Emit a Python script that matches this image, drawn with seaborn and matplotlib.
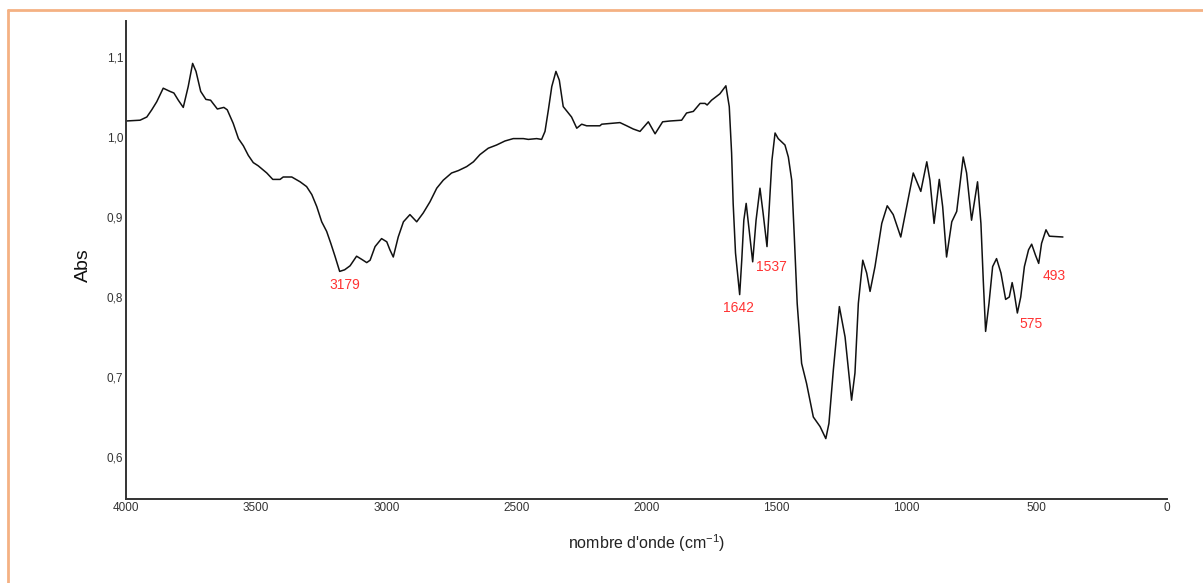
import matplotlib
matplotlib.use("Agg")
import matplotlib.pyplot as plt
from matplotlib.lines import Line2D
import numpy as np
import pandas as pd
import seaborn as sns

# FTIR absorbance spectrum (wavenumber in cm-1, absorbance)
wavenumber = [
    4000, 3946, 3920, 3901, 3882, 3857, 3831, 3816, 3799, 3780,
    3761, 3744, 3731, 3713, 3693, 3675, 3649, 3624, 3611, 3588,
    3568, 3549, 3530, 3511, 3492, 3459, 3436, 3408, 3396, 3363,
    3331, 3306, 3286, 3267, 3248, 3229, 3213, 3197, 3179, 3160,
    3139, 3114, 3094, 3075, 3062, 3043, 3018, 2998, 2986, 2973,
    2954, 2934, 2909, 2883, 2858, 2832, 2806, 2781, 2749, 2723,
    2691, 2665, 2640, 2608, 2576, 2544, 2512, 2473, 2454, 2422,
    2403, 2390, 2377, 2364, 2348, 2335, 2320, 2305, 2288, 2268,
    2249, 2230, 2179, 2172, 2102, 2076, 2051, 2025, 1993, 1967,
    1938, 1910, 1865, 1846, 1820, 1794, 1775, 1767, 1750, 1718,
    1695, 1682, 1673, 1667, 1658, 1642, 1634, 1626, 1617, 1607,
    1592, 1579, 1564, 1552, 1537, 1527, 1518, 1506, 1494, 1468,
    1455, 1442, 1432, 1421, 1404, 1385, 1359, 1333, 1311, 1299,
    1282, 1259, 1237, 1212, 1199, 1186, 1169, 1154, 1141, 1122,
    1096, 1075, 1052, 1023, 1000, 975, 946, 923, 911, 895,
    875, 862, 847, 827, 808, 783, 770, 751, 728, 715,
    706, 697, 684, 670, 655, 638, 620, 606, 595, 587,
    575, 562, 548, 532, 520, 505, 493, 482, 465, 452,
    400,
]
absorbance = [
    1.020, 1.021, 1.025, 1.034, 1.044, 1.061, 1.057, 1.055, 1.046, 1.037,
    1.063, 1.092, 1.082, 1.057, 1.047, 1.046, 1.035, 1.037, 1.034, 1.017,
    0.998, 0.989, 0.977, 0.968, 0.964, 0.955, 0.947, 0.947, 0.950, 0.950,
    0.944, 0.938, 0.928, 0.913, 0.894, 0.882, 0.867, 0.851, 0.832, 0.834,
    0.839, 0.851, 0.847, 0.843, 0.846, 0.863, 0.873, 0.869, 0.859, 0.850,
    0.875, 0.894, 0.903, 0.894, 0.905, 0.919, 0.936, 0.946, 0.955, 0.958,
    0.963, 0.969, 0.978, 0.986, 0.990, 0.995, 0.998, 0.998, 0.997, 0.998,
    0.997, 1.007, 1.034, 1.063, 1.082, 1.071, 1.038, 1.032, 1.025, 1.011,
    1.016, 1.014, 1.014, 1.016, 1.018, 1.014, 1.010, 1.007, 1.019, 1.004,
    1.019, 1.020, 1.021, 1.030, 1.032, 1.042, 1.042, 1.040, 1.046, 1.054,
    1.064, 1.038, 0.980, 0.917, 0.855, 0.803, 0.846, 0.896, 0.917, 0.888,
    0.844, 0.896, 0.936, 0.905, 0.863, 0.921, 0.971, 1.005, 0.998, 0.990,
    0.975, 0.946, 0.875, 0.792, 0.717, 0.692, 0.650, 0.638, 0.623, 0.642,
    0.709, 0.788, 0.750, 0.671, 0.705, 0.792, 0.846, 0.830, 0.807, 0.838,
    0.892, 0.914, 0.903, 0.875, 0.913, 0.955, 0.932, 0.969, 0.946, 0.892,
    0.947, 0.913, 0.850, 0.894, 0.907, 0.975, 0.955, 0.896, 0.944, 0.892,
    0.821, 0.757, 0.792, 0.838, 0.848, 0.830, 0.797, 0.800, 0.818, 0.805,
    0.780, 0.800, 0.838, 0.859, 0.866, 0.852, 0.842, 0.867, 0.884, 0.876,
    0.875,
]

# Annotated band positions and label offsets (points)
peak_labels = [3179, 1642, 1537, 575, 493]
label_dx = [4, -1, 3, 10, 11]
label_dy = [-10, -10, -15, -8, -9]

x_ticks = [4000, 3500, 3000, 2500, 2000, 1500, 1000, 500, 0]
y_ticks = [0.6, 0.7, 0.8, 0.9, 1.0, 1.1]

sns.set_theme(style="white")
plt.rcParams["font.family"] = ["Liberation Sans", "DejaVu Sans"]
plt.rcParams["mathtext.fontset"] = "custom"
plt.rcParams["mathtext.rm"] = "Liberation Sans"
plt.rcParams["mathtext.it"] = "Liberation Sans:italic"

W, H = 1203, 583
fig = plt.figure(figsize=(W / 100, H / 100), dpi=100)
fig.patch.set_facecolor("white")

x0, x1, y_top, y_bot = 126, 1167, 21, 499
ax = fig.add_axes([x0 / W, 1 - y_bot / H, (x1 - x0) / W, (y_bot - y_top) / H])
ax.set_facecolor("white")

df = pd.DataFrame({"wn": wavenumber, "abs": absorbance})
sns.lineplot(data=df, x="wn", y="abs", sort=False, estimator=None,
             color="#111111", linewidth=1.1, ax=ax)

ax.set_xlim(4000, 0)
ax.set_ylim(0.5475, 1.145)

ax.set_xticks(x_ticks)
ax.set_xticklabels([str(t) for t in x_ticks])
ax.set_yticks(y_ticks)
ax.set_yticklabels([f"{t:.1f}".replace(".", ",") for t in y_ticks])
ax.tick_params(axis="both", length=0, labelsize=8.5, colors="#333333")
ax.tick_params(axis="x", pad=2)
ax.tick_params(axis="y", pad=2)

for side in ["top", "right"]:
    ax.spines[side].set_visible(False)
for side in ["left", "bottom"]:
    ax.spines[side].set_color("#333333")
    ax.spines[side].set_linewidth(1.4)

ax.set_xlabel(r"nombre d'onde (cm$^{-1}$)", fontsize=11.5, color="#222222", va="center")
ax.xaxis.set_label_coords((647 - x0) / (x1 - x0), (y_bot - 543) / (y_bot - y_top))
ax.set_ylabel("Abs", fontsize=14, color="#111111", va="center")
ax.yaxis.set_label_coords((83 - x0) / (x1 - x0), (y_bot - 265) / (y_bot - y_top))

lookup = dict(zip(wavenumber, absorbance))
for wn, dx, dy in zip(peak_labels, label_dx, label_dy):
    ax.annotate(str(wn), xy=(wn, lookup[wn]), xytext=(dx, dy),
                textcoords="offset points", ha="center", va="center",
                fontsize=10, color="#ff3333")

# Page frame
frame_color = "#f4b183"
fig.add_artist(Line2D([8 / W, 8 / W], [0, 1 - 10 / H], transform=fig.transFigure,
                      color=frame_color, linewidth=2))
fig.add_artist(Line2D([8 / W, 1], [1 - 10 / H, 1 - 10 / H], transform=fig.transFigure,
                      color=frame_color, linewidth=2))

fig.savefig("out.png", dpi=100, facecolor="white")
